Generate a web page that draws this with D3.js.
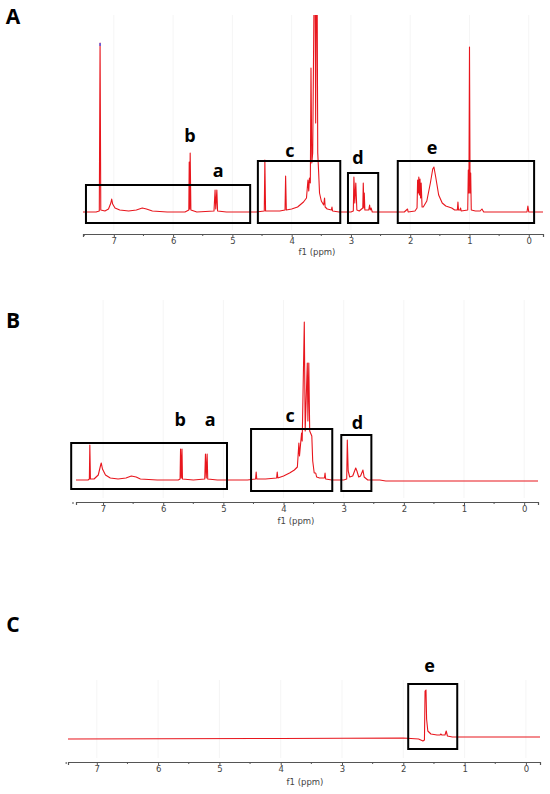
<!DOCTYPE html>
<html>
<head>
<meta charset="utf-8">
<script src="https://cdn.jsdelivr.net/npm/d3@7"></script>
<style>
  html, body { margin: 0; padding: 0; background: #fff; }
  svg { display: block; }
</style>
</head>
<body>
<svg id="chart" width="550" height="794"></svg>
<script>
// ---------------- DATA ----------------
const tickLabels = [7, 6, 5, 4, 3, 2, 1, 0];
const minorTicks = [7.5, 6.5, 5.5, 4.5, 3.5, 2.5, 1.5, 0.5];
const axisTitle = "f1 (ppm)";
const panelNames = ["A", "B", "C"];

// Spectrum A: [ppm, relative intensity]
const specA = [
  [7.52,1],[7.30,1],[7.245,2],[7.232,170],[7.22,3],[7.15,2],[7.09,4],[7.05,10],[7.036,14],[7.02,9],
  [6.98,5],[6.90,3],[6.75,2],[6.62,3],[6.52,5],[6.45,4],[6.35,2],[6.10,1],[5.80,1],
  [5.735,3],[5.728,51],[5.72,4],[5.712,60],[5.70,3],[5.60,1],
  [5.31,2],[5.292,23],[5.28,4],[5.262,23],[5.25,2],[5.10,1],[4.60,1],
  [4.462,2],[4.452,53],[4.44,2],[4.20,2],[4.112,3],[4.102,37],[4.09,3],
  [4.00,4],[3.90,6],[3.80,11],[3.75,15],[3.725,33],[3.712,22],[3.70,35],[3.685,30],[3.674,145],
  [3.66,50],[3.645,60],[3.61,300],[3.595,90],[3.575,300],[3.56,60],[3.545,41],[3.53,20],
  [3.50,12],[3.46,8],[3.445,15],[3.435,6],[3.40,4],[3.33,3],[3.32,6],[3.31,2],[3.20,1],[3.00,1],
  [2.96,2],[2.95,36],[2.935,10],[2.918,30],[2.90,3],[2.86,2],
  [2.80,5],[2.792,30],[2.78,5],[2.775,20],[2.765,3],[2.70,3],[2.685,8],[2.675,3],[2.66,5],[2.64,1],
  [2.40,1],[2.10,1],[2.045,4],[2.035,1],[1.92,2],
  [1.885,5],[1.875,33],[1.865,20],[1.855,36],[1.845,18],[1.835,34],[1.825,15],[1.815,30],[1.80,6],
  [1.78,6],[1.72,12],[1.66,30],[1.62,44],[1.60,46],[1.57,36],[1.52,18],[1.46,10],[1.40,7],
  [1.30,5],[1.25,3],[1.205,3],[1.195,11],[1.185,3],[1.16,3],[1.15,5],[1.14,2],
  [1.03,3],[1.02,43],[1.01,20],[1.00,166],[0.99,20],[0.98,40],[0.97,3],[0.90,2],
  [0.82,2],[0.79,4],[0.76,1],[0.50,1],[0.03,1],[0.015,7],[0.00,1],[-0.24,1]
];

// Spectrum B
const specB = [
  [7.45,1],[7.25,1],[7.228,2],[7.22,36],[7.21,2],[7.15,2],[7.08,6],[7.04,16],[7.03,18],[7.01,12],
  [6.96,6],[6.88,3],[6.75,2],[6.62,3],[6.53,5],[6.45,4],[6.38,2],[6.10,1],[5.75,1],
  [5.72,2],[5.712,32],[5.70,3],[5.688,32],[5.68,2],[5.50,1],
  [5.31,2],[5.298,27],[5.285,3],[5.27,27],[5.26,2],[5.10,1],[4.60,1],
  [4.465,2],[4.455,9],[4.445,2],[4.30,2],[4.115,3],[4.105,9],[4.095,3],
  [4.00,5],[3.90,8],[3.82,11],[3.77,14],[3.745,38],[3.735,25],[3.70,48],[3.69,40],
  [3.655,159],[3.64,50],[3.605,118],[3.595,60],[3.58,118],[3.565,50],[3.53,45],[3.515,20],
  [3.49,8],[3.465,8],[3.45,4],[3.40,3],[3.32,3],[3.31,8],[3.30,2],[3.20,1],[3.00,1],
  [2.95,2],[2.94,41],[2.925,10],[2.90,4],[2.85,5],[2.80,13],[2.78,10],[2.75,4],[2.72,5],
  [2.68,11],[2.66,4],[2.60,1],[2.40,1],[2.30,0],[-0.23,0]
];

// Spectrum C
const specC = [
  [7.47,0],[4.00,0.5],[2.00,1],[1.75,0],[1.68,-2],[1.655,-1],[1.645,48],[1.63,49],[1.62,20],
  [1.60,8],[1.55,5],[1.45,4],[1.40,4],[1.39,5],[1.37,4],[1.32,4],[1.30,8],[1.28,3],
  [1.20,2],[1.00,2],[-0.23,2]
];

// Boxed regions: [label, ppmFrom, ppmTo, intensityLow, intensityHigh]
const boxesA = [["ab",7.47,4.70,-10,28],["c",4.57,3.18,-10,52],["d",3.05,2.54,-10,40],["e",2.21,-0.09,-10,52]];
const boxesB = [["ab",7.53,4.94,-8,38],["c",4.54,3.19,-10,52],["d",3.04,2.54,-10,46]];
const boxesC = [["e",1.92,1.12,-10,55]];

// Region letters: [text, ppm, intensity]
const lettersA = [["b",5.715,78],["a",5.24,43],["c",4.03,63],["d",2.88,56],["e",1.63,66]];
const lettersB = [["b",5.72,62],["a",5.22,62],["c",3.89,66],["d",2.77,59]];
const lettersC = [["e",1.57,74]];

// ---------------- DRAW ----------------
const svg = d3.select("#chart");
const FONT = "'Open Sans', 'DejaVu Sans', sans-serif";
const RED = "#e8161d";

const panels = [
  { name: panelNames[0], spec: specA, boxes: boxesA, letters: lettersA,
    xDom: [7.52, -0.24], xR: [83, 543], yDom: [0, 200], yR: [213, 13], clipTop: 15,
    axisY: 234, titleX: 317, titleY: 252, nameY: 16, gridTop: 15 },
  { name: panelNames[1], spec: specB, boxes: boxesB, letters: lettersB,
    xDom: [7.45, -0.23], xR: [76, 538], yDom: [0, 160], yR: [481, 321], clipTop: 300,
    axisY: 502, titleX: 296, titleY: 521, nameY: 320, gridTop: 300 },
  { name: panelNames[2], spec: specC, boxes: boxesC, letters: lettersC,
    xDom: [7.47, -0.23], xR: [68, 540], yDom: [0, 50], yR: [739, 689], clipTop: 680,
    axisY: 762, titleX: 305, titleY: 782, nameY: 624, gridTop: 680 }
];

panels.forEach((p, i) => {
  const x = d3.scaleLinear().domain(p.xDom).range(p.xR);
  const y = d3.scaleLinear().domain(p.yDom).range(p.yR);
  const g = svg.append("g");

  // faint grid
  g.append("g").selectAll("line").data(tickLabels).join("line")
    .attr("x1", d => x(d)).attr("x2", d => x(d))
    .attr("y1", p.gridTop).attr("y2", p.axisY - 4)
    .attr("stroke", "#f5f5f5").attr("stroke-width", 1);

  // clip
  const cid = "clip" + i;
  svg.append("clipPath").attr("id", cid).append("rect")
    .attr("x", p.xR[0]).attr("y", p.clipTop)
    .attr("width", p.xR[1] - p.xR[0]).attr("height", p.axisY - p.clipTop);

  const line = d3.line().x(d => x(d[0])).y(d => y(d[1]));
  g.append("path").datum(p.spec)
    .attr("clip-path", `url(#${cid})`)
    .attr("d", line).attr("fill", "none")
    .attr("stroke", RED).attr("stroke-width", 1.1).attr("stroke-linejoin", "round");

  // blue tip on tallest solvent peak of A
  if (i === 0) {
    const pk = p.spec.find(d => d[0] === 7.232);
    g.append("line").attr("x1", x(pk[0])).attr("x2", x(pk[0]))
      .attr("y1", y(pk[1])).attr("y2", y(pk[1]) + 3)
      .attr("stroke", "#3355ff").attr("stroke-width", 1.2);
  }

  // boxes
  g.append("g").selectAll("rect").data(p.boxes).join("rect")
    .attr("x", d => x(d[1])).attr("y", d => y(d[4]))
    .attr("width", d => x(d[2]) - x(d[1])).attr("height", d => y(d[3]) - y(d[4]))
    .attr("fill", "none").attr("stroke", "#000").attr("stroke-width", 2);

  // letters
  g.append("g").selectAll("text").data(p.letters).join("text")
    .attr("x", d => x(d[1])).attr("y", d => y(d[2]))
    .attr("text-anchor", "middle").attr("dominant-baseline", "central")
    .attr("font-family", FONT).attr("font-weight", 700).attr("font-size", 18)
    .attr("fill", "#000").text(d => d[0]);

  // axis
  const ax = g.append("g").attr("transform", `translate(0,${p.axisY})`)
    .call(d3.axisBottom(x).tickValues(tickLabels).tickSize(3).tickPadding(1).tickFormat(d3.format("d")));
  ax.select(".domain").attr("stroke", "#555").attr("stroke-width", 1.2);
  ax.selectAll(".tick line").attr("stroke", "#555");
  ax.selectAll(".tick text").attr("font-family", "'DejaVu Sans', sans-serif")
    .attr("font-size", 8.5).attr("fill", "#444");
  ax.append("g").selectAll("line").data(minorTicks).join("line")
    .attr("x1", d => x(d)).attr("x2", d => x(d)).attr("y1", 0).attr("y2", 2)
    .attr("stroke", "#555");

  g.append("text").attr("x", p.titleX).attr("y", p.titleY)
    .attr("text-anchor", "middle").attr("dominant-baseline", "central")
    .attr("font-family", "'DejaVu Sans', sans-serif").attr("font-size", 8.5)
    .attr("fill", "#444").text(axisTitle);

  // panel name
  svg.append("text").attr("x", 13).attr("y", p.nameY)
    .attr("text-anchor", "middle").attr("dominant-baseline", "central")
    .attr("font-family", FONT).attr("font-weight", 700).attr("font-size", 21)
    .attr("fill", "#000").text(p.name);
});
</script>
</body>
</html>
